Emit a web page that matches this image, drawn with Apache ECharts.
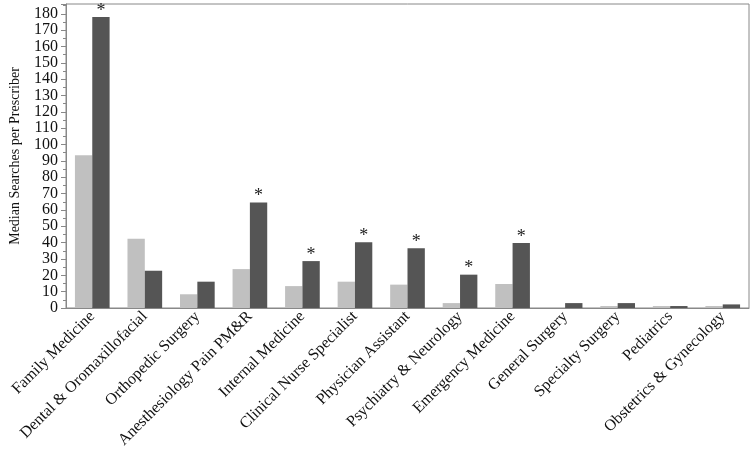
<!DOCTYPE html>
<html>
<head>
<meta charset="utf-8">
<script src="https://cdn.jsdelivr.net/npm/echarts@6/dist/echarts.min.js"></script>
<style>
  html, body { margin: 0; padding: 0; background: #fff; }
  #chart { width: 755px; height: 451px; }
</style>
</head>
<body>
<div id="chart"></div>
<script>
const categories = [
  'Family Medicine', 'Dental & Oromaxillofacial', 'Orthopedic Surgery',
  'Anesthesiology Pain PM&R', 'Internal Medicine', 'Clinical Nurse Specialist',
  'Physician Assistant', 'Psychiatry & Neurology', 'Emergency Medicine',
  'General Surgery', 'Specialty Surgery', 'Pediatrics', 'Obstetrics & Gynecology'
];
const lightValues = [93.5, 42.4, 8.4, 23.8, 13.4, 16.1, 14.3, 3, 14.7, 0, 1.2, 1.2, 1.2];
const darkValues = [178, 22.8, 16.1, 64.6, 28.7, 40.3, 36.5, 20.4, 39.7, 3, 3, 1.2, 2.2];
const significant = [true, false, false, true, true, true, true, true, true, false, false, false, false];

const chart = echarts.init(document.getElementById('chart'));

const serif = '"Liberation Serif", "DejaVu Serif", serif';

const option = {
  animation: false,
  textStyle: { fontFamily: serif },
  grid: {
    left: 58.5,
    right: 6,
    top: 4,
    bottom: 143,
    show: true,
    borderColor: '#888',
    borderWidth: 1
  },
  xAxis: {
    type: 'category',
    data: categories,
    axisLine: { lineStyle: { color: '#888', width: 1 } },
    axisTick: { show: false },
    axisLabel: {
      interval: 0,
      rotate: 45,
      margin: 6,
      color: '#111',
      fontSize: 16,
      fontFamily: serif
    }
  },
  yAxis: {
    type: 'value',
    min: 0,
    max: 186,
    interval: 10,
    name: 'Median Searches per Prescriber',
    nameLocation: 'middle',
    nameGap: 44,
    nameTextStyle: { color: '#111', fontSize: 14, fontFamily: serif },
    axisLine: { show: true, lineStyle: { color: '#888', width: 1 } },
    axisTick: { show: true, length: 5, lineStyle: { color: '#888' } },
    minorTick: { show: true, splitNumber: 2, length: 3, lineStyle: { color: '#888' } },
    splitLine: { show: false },
    axisLabel: {
      color: '#111',
      fontSize: 16,
      margin: 8,
      fontFamily: serif,
      showMaxLabel: false
    }
  },
  series: [
    {
      type: 'bar',
      data: lightValues,
      barGap: '0%',
      barCategoryGap: '34%',
      itemStyle: { color: '#c0c0c0' }
    },
    {
      type: 'bar',
      data: darkValues,
      itemStyle: { color: '#555555' },
      label: {
        show: true,
        position: 'top',
        distance: -3,
        color: '#222',
        fontSize: 18,
        fontWeight: 'normal',
        fontFamily: serif,
        formatter: p => (significant[p.dataIndex] ? '*' : '')
      }
    }
  ]
};

chart.setOption(option);
</script>
</body>
</html>
